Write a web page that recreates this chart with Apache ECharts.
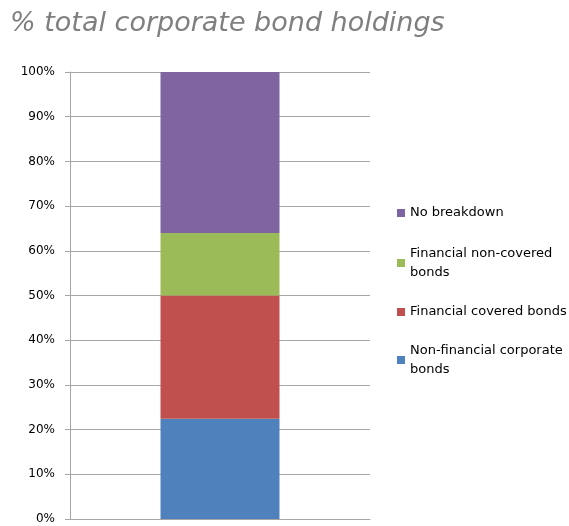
<!DOCTYPE html>
<html>
<head>
<meta charset="utf-8">
<script src="https://cdn.jsdelivr.net/npm/echarts@6/dist/echarts.min.js"></script>
<style>
  html, body { margin: 0; padding: 0; background: #fff; }
  #chart { width: 569px; height: 526px; }
</style>
</head>
<body>
<div id="chart"></div>
<script>
const categories = ['']
const seriesNames = [
  'Non-financial corporate bonds',
  'Financial covered bonds',
  'Financial non-covered bonds',
  'No breakdown',
]
const seriesValues = [22.4, 27.6, 14.0, 36.0]
const seriesColors = ['#4F81BD', '#C0504D', '#9BBB59', '#8064A2']
const yTicks = [0, 10, 20, 30, 40, 50, 60, 70, 80, 90, 100]

// legend label text (two-line labels wrap like the original)
const legendLabels = {
  'Non-financial corporate bonds': 'Non-financial corporate\nbonds',
  'Financial covered bonds': 'Financial covered bonds',
  'Financial non-covered bonds': 'Financial non-covered\nbonds',
  'No breakdown': 'No breakdown',
}
// icon centre y for each legend entry
const legendY = {
  'No breakdown': 213,
  'Financial non-covered bonds': 263,
  'Financial covered bonds': 312,
  'Non-financial corporate bonds': 360,
}

const chart = echarts.init(document.getElementById('chart'))

const legends = seriesNames.map((name) => {
  const twoLine = legendLabels[name].includes('\n')
  return {
    left: 392,
    top: legendY[name] - (twoLine ? 28.5 : 9.5) - 5,
    orient: 'vertical',
    itemWidth: 8,
    itemHeight: 8,
    itemGap: 5,
    icon: 'rect',
    selectedMode: false,
    formatter: (n) => legendLabels[n],
    textStyle: {
      fontFamily: 'DejaVu Sans',
      fontSize: 13,
      color: '#000',
      lineHeight: 19,
      padding: twoLine ? [19, 0, 0, 0] : 0,
    },
    data: [name],
  }
})

chart.setOption({
  animation: false,
  title: {
    text: '% total corporate bond holdings',
    left: 5,
    top: 5,
    textStyle: {
      fontFamily: 'DejaVu Sans',
      fontStyle: 'italic',
      fontWeight: 'normal',
      fontSize: 27,
      color: '#7f7f7f',
    },
  },
  legend: legends,
  grid: { left: 70, right: 199, top: 72, bottom: 7, containLabel: false },
  xAxis: {
    type: 'category',
    data: categories,
    axisLine: { show: true, lineStyle: { color: '#a6a6a6', width: 1 } },
    axisTick: { show: false },
    axisLabel: { show: false },
  },
  yAxis: {
    type: 'value',
    min: yTicks[0],
    max: yTicks[yTicks.length - 1],
    interval: 10,
    axisLine: { show: true, lineStyle: { color: '#a6a6a6', width: 1 } },
    axisTick: { show: true, length: 5, lineStyle: { color: '#a6a6a6' } },
    splitLine: { show: true, lineStyle: { color: '#a6a6a6', width: 1 } },
    axisLabel: {
      formatter: '{value}%',
      fontFamily: 'DejaVu Sans',
      fontSize: 12,
      color: '#000',
      margin: 15,
    },
  },
  series: seriesNames.map((name, i) => ({
    name,
    type: 'bar',
    stack: 'total',
    barWidth: 119,
    itemStyle: { color: seriesColors[i] },
    data: [seriesValues[i]],
  })),
})
</script>
</body>
</html>
